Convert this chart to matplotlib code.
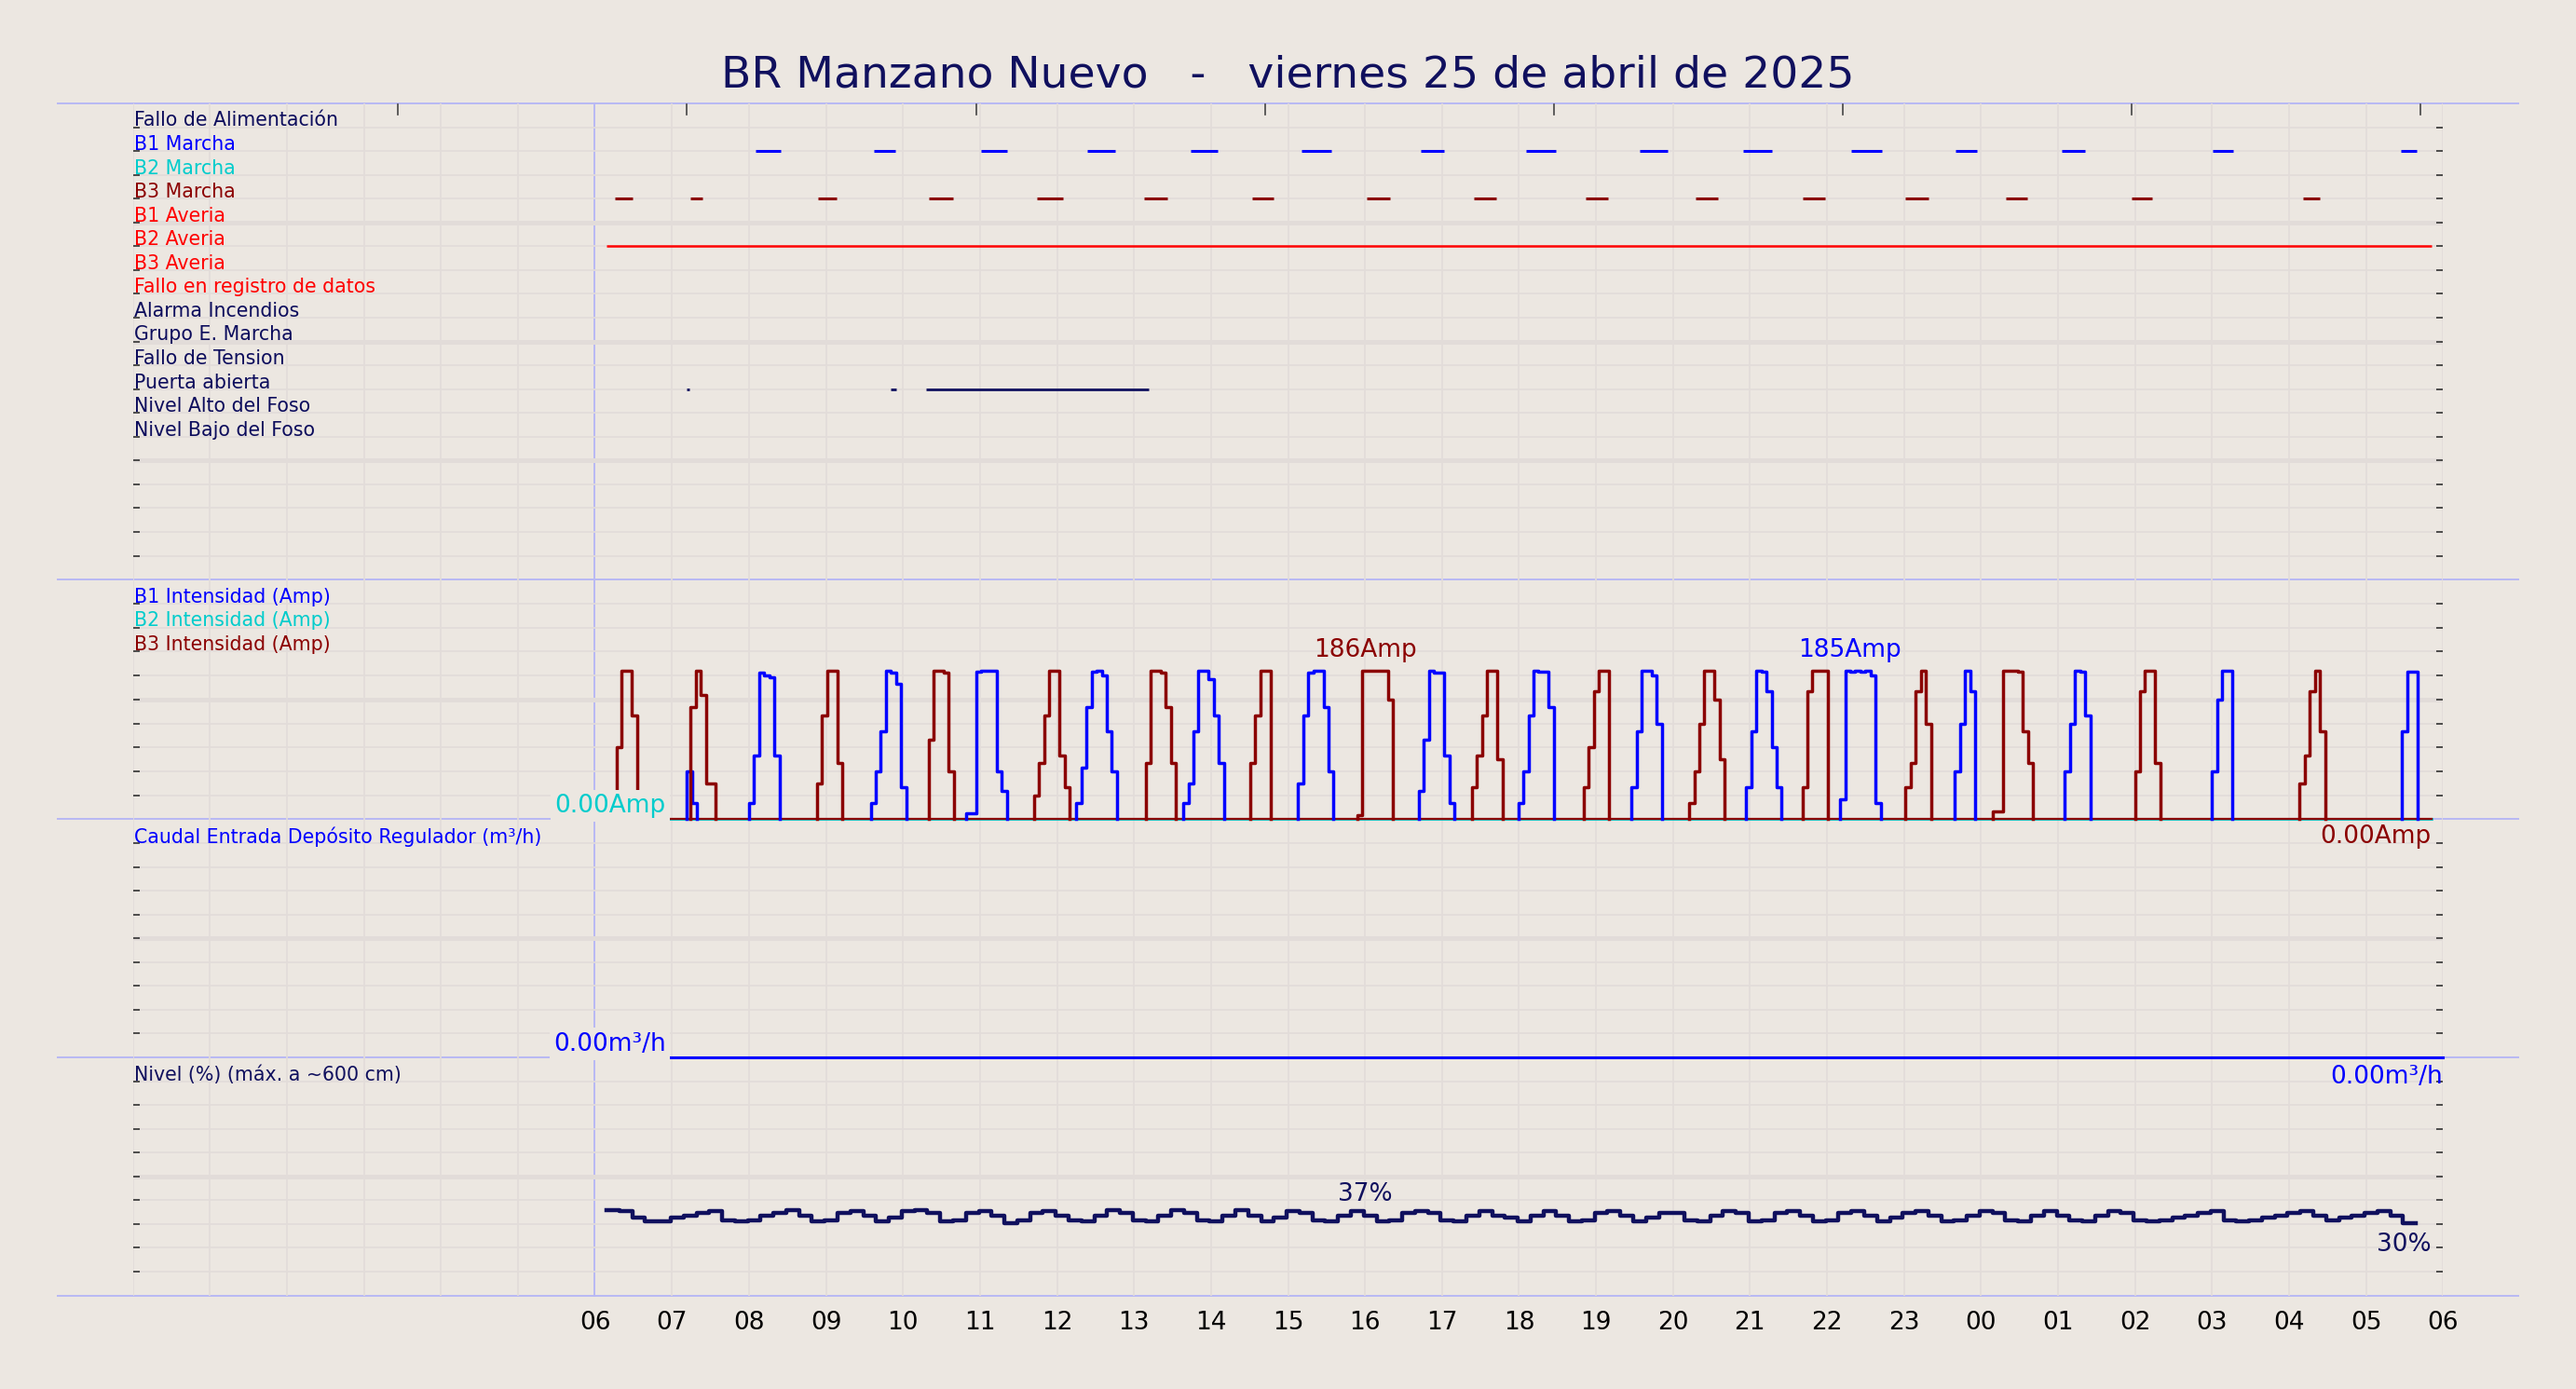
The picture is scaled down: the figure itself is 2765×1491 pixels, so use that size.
import matplotlib
matplotlib.use('Agg')
import matplotlib.pyplot as plt
from matplotlib.lines import Line2D

# ---------------- data ----------------
hour_labels = ['06','07','08','09','10','11','12','13','14','15','16','17','18',
               '19','20','21','22','23','00','01','02','03','04','05','06']
signal_names = ['Fallo de Alimentación','B1 Marcha','B2 Marcha','B3 Marcha','B1 Averia',
                'B2 Averia','B3 Averia','Fallo en registro de datos','Alarma Incendios',
                'Grupo E. Marcha','Fallo de Tension','Puerta abierta','Nivel Alto del Foso',
                'Nivel Bajo del Foso']
signal_colors = ['#0c0c5c','#0000ff','#00cccc','#8b0000','#ff0000','#ff0000','#ff0000',
                 '#ff0000','#0c0c5c','#0c0c5c','#0c0c5c','#0c0c5c','#0c0c5c','#0c0c5c']

b1_marcha = [(2.09,2.41),(3.62,3.90),(5.01,5.35),(6.39,6.75),(7.73,8.09),(9.18,9.56),
             (10.73,11.03),(12.09,12.48),(13.57,13.93),(14.91,15.29),(16.32,16.71),
             (17.67,17.95),(19.05,19.35),(21.01,21.27),(23.45,23.66)]
b3_marcha = [(0.26,0.49),(1.24,1.39),(2.90,3.14),(4.33,4.65),(5.74,6.08),(7.13,7.43),
             (8.53,8.81),(10.02,10.33),(11.41,11.71),(12.86,13.16),(14.29,14.59),
             (15.68,15.98),(17.02,17.32),(18.32,18.60),(19.96,20.22),(22.18,22.40)]
b2_averia = [(0.15,23.85)]
puerta = [(1.19,1.23),(3.84,3.91),(4.30,7.19)]

DT = 0.066  # hours per step in amp pulses
b1_starts = [1.19,2.00,3.58,4.82,6.25,7.64,9.13,10.70,11.99,13.46,14.95,16.17,17.66,19.09,21.00,23.47]
b1_vals = [[60,20,0],
           [20,80,183,180,178,80,0],
           [20,60,110,186,183,170,40,0],
           [8,8,185,186,186,186,60,35,0],
           [20,65,140,185,186,180,110,60,0],
           [20,45,110,186,186,175,130,70,0],
           [45,130,183,186,186,140,60,0],
           [35,100,186,183,183,80,20,0],
           [20,60,130,186,185,185,140,0],
           [40,110,186,186,180,120,0],
           [40,110,186,185,160,90,40,0],
           [25,186,185,186,185,186,180,20,0],
           [60,120,186,160,0],
           [60,120,186,185,130,0],
           [60,150,186,186,0],
           [110,185,185,0]]
b3_starts = [0.28,1.24,2.88,4.33,5.70,7.15,8.51,9.90,11.39,12.84,14.21,15.68,17.02,18.15,20.00,22.14]
b3_vals = [[90,186,186,130,0],
           [140,186,155,45,45,0],
           [45,130,186,186,70,0],
           [100,186,186,184,60,0],
           [30,70,130,186,186,80,40,0],
           [70,186,186,184,140,70,0],
           [70,130,186,186,0],
           [5,186,186,186,186,186,150,0],
           [40,80,130,186,186,75,0],
           [40,90,160,186,186,0],
           [20,60,120,186,186,150,75,0],
           [40,160,186,186,186,0],
           [40,70,160,186,120,0],
           [10,10,186,186,186,185,110,70,0],
           [60,160,186,186,70,0],
           [45,80,160,186,110,0]]

flow_times = [0.9, 24.0]
flow_vals = [0.0, 0.0]

level_t0 = 0.15
level_dt = 1/6
level_vals = [36,35.5,32.5,31,31,32.5,33.5,34.5,35.5,31.5,31,31.5,33.5,34.5,36,33.5,31,31.5,34.5,35.5,
              33.5,31,32.5,35.5,36,34.5,31,31.5,34.5,35.5,33.5,30.5,31.5,34.5,35.5,33.5,31.5,31,33.5,36,
              34.5,31.5,31,33.5,36,34.5,31.5,31,33.5,36,33.5,31,32.5,35.5,34.5,31.5,31,33.5,35.5,33.5,
              31,31.5,34.5,35.5,34.5,31.5,31,33.5,35.5,33.5,32.5,31,33.5,35.5,33.5,31,31.5,34.5,35.5,33.5,
              31,32.5,34.5,34.5,31.5,31,33.5,35.5,34.5,31,31.5,34.5,35.5,33.5,31,31.5,34.5,35.5,33.5,
              31,32.5,34.5,35.5,33.5,31,31.5,33.5,35.5,34.5,31.5,31,33.5,35.5,33.5,31.5,31,33.5,35.5,34.5,
              31.5,31,31.5,32.5,33.5,34.5,35.5,31.5,31,31.5,32.5,33.5,34.5,35.5,33.5,31.5,32.5,33.5,34.5,35.5,
              33.5,30.5]

# ---------------- style ----------------
BG = '#ECE7E1'
GRID = '#E2DCD9'
NAVY = '#10105e'
SEP = '#B8B8F4'
DARKRED = '#8b0000'
plt.rcParams['font.family'] = ['DejaVu Sans']

fig = plt.figure(figsize=(13.825, 7.455), dpi=200, facecolor=BG)
W, H = 1568, 846
def fx(x): return x / W
def fy(y): return 1 - y / H

for y in [63, 353, 499, 644, 789]:
    fig.add_artist(Line2D([fx(35), fx(1533)], [fy(y), fy(y)], color=SEP, lw=0.7, zorder=1))
fig.add_artist(Line2D([fx(362), fx(362)], [fy(63), fy(789)], color=SEP, lw=0.7, zorder=1))

left, right = fx(81), fx(1487)
tops = [63, 353, 499, 644, 789]
nrows = [20, 10, 10, 10]
ylims = [(20, 0), (0, 300), (0, 10), (0, 100)]
axes = []
for i in range(4):
    ax = fig.add_axes([left, fy(tops[i + 1]), right - left, (tops[i + 1] - tops[i]) / H])
    ax.patch.set_visible(False)
    ax.set_zorder(10 - i)
    ax.set_xlim(-6, 24)
    ax.set_ylim(*ylims[i])
    lo, hi = min(ylims[i]), max(ylims[i])
    step = (hi - lo) / nrows[i]
    for k in range(1, nrows[i]):
        yv = lo + k * step
        ax.axhline(yv, color=GRID, lw=1.8 if k % 5 == 0 else 0.6, zorder=0)
    for h in range(-6, 25):
        if h != 0:
            ax.axvline(h, color=GRID, lw=0.6, zorder=0)
    for s in ax.spines.values():
        s.set_visible(False)
    ax.set_yticks([lo + k * step for k in range(1, nrows[i])])
    ax.tick_params(axis='y', left=True, right=True, direction='in', length=2.5,
                   width=0.6, color='#333333', labelleft=False)
    ax.set_xticks([])
    axes.append(ax)

ax1, ax2, ax3, ax4 = axes
FS = 7.4
VS = 9.5

for h in [-2.56, 1.19, 4.95, 8.70, 12.45, 16.20, 19.96, 23.71]:
    ax1.plot([h, h], [0.05, 0.45], color='#444444', lw=0.6, zorder=3)

for i, (n, c) in enumerate(zip(signal_names, signal_colors)):
    ax1.text(-5.98, i + 0.72, n, color=c, fontsize=FS, va='center', ha='left')

def segs(ax, lst, row, color, lw):
    for a, b in lst:
        ax.plot([a, b], [row, row], color=color, lw=lw, solid_capstyle='butt', zorder=3)

segs(ax1, b1_marcha, 2, '#0000ff', 1.1)
segs(ax1, b3_marcha, 4, DARKRED, 1.1)
segs(ax1, b2_averia, 6, '#ff0000', 0.9)
segs(ax1, puerta, 12, NAVY, 1.0)

ax2.text(-5.98, 300 - 0.72 * 30, 'B1 Intensidad (Amp)', color='#0000ff', fontsize=FS, va='center')
ax2.text(-5.98, 300 - 1.72 * 30, 'B2 Intensidad (Amp)', color='#00cccc', fontsize=FS, va='center')
ax2.text(-5.98, 300 - 2.72 * 30, 'B3 Intensidad (Amp)', color=DARKRED, fontsize=FS, va='center')

ax2.plot([0.9, 23.85], [0, 0], color='#00cccc', lw=1.0, zorder=2, clip_on=False)
ax2.plot([0.9, 23.85], [0, 0], color=DARKRED, lw=0.8, zorder=2, clip_on=False)

def pulses(ax, starts, vals, color):
    for s, v in zip(starts, vals):
        t = [s + k * DT for k in range(len(v))]
        ax.step([s] + t, [0] + v, where='post', color=color, lw=1.25, zorder=3, clip_on=False)

pulses(ax2, b1_starts, b1_vals, '#0000ff')
pulses(ax2, b3_starts, b3_vals, DARKRED)

bb = dict(facecolor=BG, edgecolor='none', pad=1.5)
ax2.text(10.0, 196, '186Amp', color=DARKRED, fontsize=VS, ha='center', va='bottom')
ax2.text(16.3, 196, '185Amp', color='#0000ff', fontsize=VS, ha='center', va='bottom')
ax2.text(0.92, 2, '0.00Amp', color='#00cccc', fontsize=VS, ha='right', va='bottom', bbox=bb, zorder=4)
ax2.text(23.85, -6, '0.00Amp', color=DARKRED, fontsize=VS, ha='right', va='top', zorder=4, clip_on=False)

ax3.text(-5.98, 10 - 0.72, 'Caudal Entrada Depósito Regulador (m³/h)', color='#0000ff',
         fontsize=FS, va='center')
ax3.plot(flow_times, flow_vals, color='#0000ff', lw=1.1, zorder=3, clip_on=False)
ax3.text(0.92, 0.05, '0.00m³/h', color='#0000ff', fontsize=VS, ha='right', va='bottom', bbox=bb, zorder=4)
ax3.text(24.0, -0.3, '0.00m³/h', color='#0000ff', fontsize=VS, ha='right', va='top', zorder=4, clip_on=False)

ax4.text(-5.98, 100 - 7.2, 'Nivel (%) (máx. a ~600 cm)', color=NAVY, fontsize=FS, va='center')
lt = [level_t0 + k * level_dt for k in range(len(level_vals))]
ax4.step(lt + [lt[-1] + level_dt], level_vals + [level_vals[-1]], where='post',
         color=NAVY, lw=1.6, zorder=3)
ax4.text(10.0, 37.5, '37%', color=NAVY, fontsize=VS, ha='center', va='bottom')
ax4.text(23.85, 26.5, '30%', color=NAVY, fontsize=VS, ha='right', va='top')

ax4.set_xticks(range(25))
ax4.set_xticklabels(hour_labels, fontsize=VS, color='black')
ax4.tick_params(axis='x', length=0, pad=6)

fig.text(0.5, fy(46), 'BR Manzano Nuevo   -   viernes 25 de abril de 2025', color=NAVY,
         fontsize=17, ha='center', va='center')

fig.savefig('out.png', dpi=200, facecolor=BG)
